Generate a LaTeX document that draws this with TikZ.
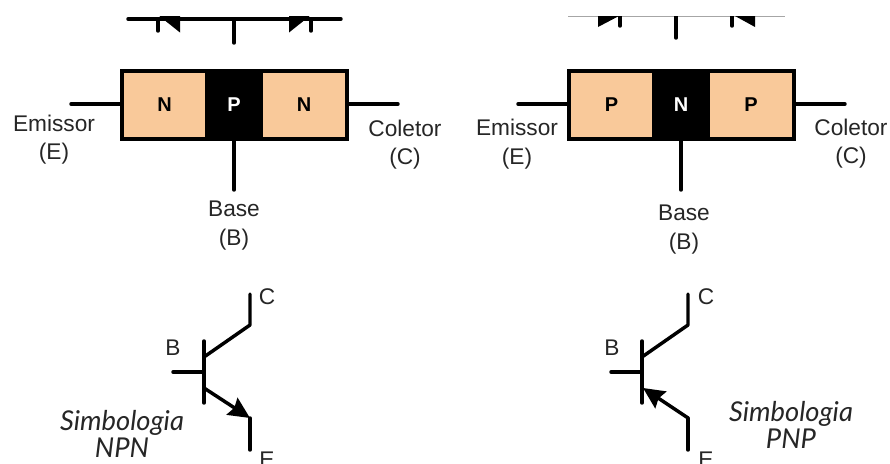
\documentclass[tikz,border=0pt]{standalone}
\usepackage{fontspec}
\setmainfont{Liberation Sans}
\newfontfamily\handfont{Lato}
\usetikzlibrary{arrows.meta}
\definecolor{peach}{HTML}{F9C99A}
\definecolor{txt}{HTML}{262626}
\tikzset{
  wire/.style={line width=2.6pt,line cap=round,line join=round,black},
  thinrail/.style={line width=0.8pt,gray!70},
  zone/.style={draw=black,line width=2.7pt,minimum height=51pt,inner sep=0pt,font=\fontsize{15}{17}\bfseries\selectfont},
  label/.style={text=txt,inner sep=0pt,align=center,font=\fontsize{17}{21.5}\selectfont},
  sym/.style={text=txt,inner sep=0pt,font=\fontsize{17}{20}\selectfont},
  hand/.style={text=txt,inner sep=0pt,align=center,font=\fontsize{20.5}{20.5}\handfont\itshape\selectfont},
  blob/.style={fill=black,draw=none},
  tip/.style={-{Stealth[length=16pt,width=15pt,inset=2pt]}},
}
\begin{document}
\begin{tikzpicture}[x=0.75pt,y=-0.75pt]
\useasboundingbox (0,0) rectangle (890,464);
\clip (0,16) rectangle (890,464);
\fill[white] (0,0) rectangle (890,464);
% --- top left fragment
\coordinate (tl1) at (128,19); \coordinate (tl2) at (341,19);
\coordinate (tlb1) at (234,19); \coordinate (tlb2) at (234,43);
\draw[wire] (tl1) -- (tl2);
\draw[wire] (tlb1) -- (tlb2);
\draw[wire] (158,19) -- (158,31);
\draw[wire] (311,19) -- (311,31);
\fill[blob] (158,15) -- (180,15) -- (180,32.5) -- cycle;
\fill[blob] (289,15) -- (311,15) -- (289,32.5) -- cycle;
% --- top right fragment
\coordinate (tr1) at (568,16); \coordinate (tr2) at (785,16);
\coordinate (trb1) at (676,16); \coordinate (trb2) at (676,38);
\draw[thinrail] (tr1) -- (tr2);
\draw[wire] (trb1) -- (trb2);
\draw[wire] (620,16) -- (620,26);
\draw[wire] (732,16) -- (732,26);
\fill[blob] (598,16) -- (619,16) -- (598,27) -- cycle;
\fill[blob] (735,16) -- (755,16) -- (755,27) -- cycle;
% --- NPN block
\node[zone,fill=peach,minimum width=63.75pt] (ln1) at (164.5,105) {N};
\node[zone,fill=peach,minimum width=64.5pt] (ln2) at (304,105) {N};
\node[zone,fill=black,text=white,minimum width=40.5pt] (lp) at (234,105) {P};
\coordinate (le) at (71,104); \coordinate (lc) at (398,104); \coordinate (lb) at (234,190);
\draw[wire] (le) -- (ln1.west |- le);
\draw[wire] (ln2.east |- lc) -- (lc);
\draw[wire] (lp.south) -- (lb);
\node[label] (l1) at (54,139.5) {Emissor\\(E)};
\node[label] (l2) at (405,144.5) {Coletor\\(C)};
\node[label] (l3) at (234,225.5) {Base\\(B)};
% --- PNP block
\node[zone,fill=peach,minimum width=63.75pt] (rp1) at (611.5,105) {P};
\node[zone,fill=peach,minimum width=64.5pt] (rp2) at (751,105) {P};
\node[zone,fill=black,text=white,minimum width=40.5pt] (rn) at (681,105) {N};
\coordinate (re) at (518,104); \coordinate (rc) at (845,104); \coordinate (rb) at (681,190);
\draw[wire] (re) -- (rp1.west |- re);
\draw[wire] (rp2.east |- rc) -- (rc);
\draw[wire] (rn.south) -- (rb);
\node[label] (r1) at (517,144) {Emissor\\(E)};
\node[label] (r2) at (851,143.5) {Coletor\\(C)};
\node[label] (r3) at (684,229.5) {Base\\(B)};
% --- NPN symbol
\coordinate (nb1) at (204,341); \coordinate (nb2) at (204,403);
\coordinate (nb) at (173,372); \coordinate (nbm) at (204,372);
\coordinate (nc0) at (204,357); \coordinate (nc1) at (250,325); \coordinate (nc2) at (250,294);
\coordinate (ne0) at (204,388); \coordinate (ne1) at (250,418); \coordinate (ne2) at (250,450);
\draw[wire] (nb1) -- (nb2);
\draw[wire] (nb) -- (nbm);
\draw[wire] (nc0) -- (nc1) -- (nc2);
\draw[wire] (ne1) -- (ne2);
\draw[wire,tip,line cap=butt] (ne0) -- (ne1);
\node[sym] (nC) at (267,297) {C};
\node[sym] (nB) at (173,348) {B};
\node[sym] (nE) at (267,459.5) {E};
\node[hand] (nh) at (122,434) {Simbologia\\NPN};
% --- PNP symbol
\coordinate (pb1) at (642,341); \coordinate (pb2) at (642,403);
\coordinate (pb) at (611,372); \coordinate (pbm) at (642,372);
\coordinate (pc0) at (642,357); \coordinate (pc1) at (688,325); \coordinate (pc2) at (688,294);
\coordinate (pe0) at (643,388); \coordinate (pe1) at (688,418); \coordinate (pe2) at (688,450);
\draw[wire] (pb1) -- (pb2);
\draw[wire] (pb) -- (pbm);
\draw[wire] (pc0) -- (pc1) -- (pc2);
\draw[wire] (pe1) -- (pe2);
\draw[wire,tip,line cap=butt] (pe1) -- (pe0);
\node[sym] (pC) at (706,297) {C};
\node[sym] (pB) at (612,348) {B};
\node[sym] (pE) at (706,459.5) {E};
\node[hand] (ph) at (791,425) {Simbologia\\PNP};
\end{tikzpicture}
\end{document}
